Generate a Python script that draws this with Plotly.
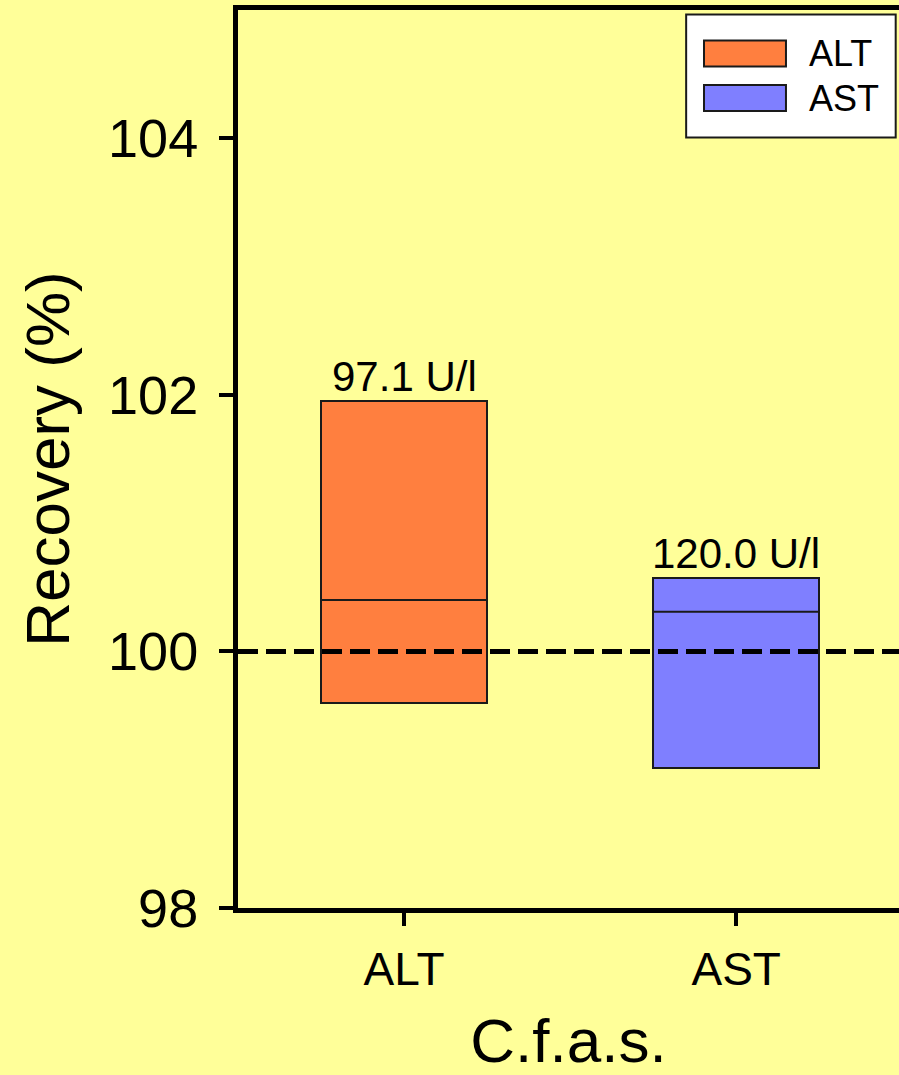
import plotly.graph_objects as go

# ---- data ----
categories = ["ALT", "AST"]
low_values = [99.60, 99.09]
high_values = [101.95, 100.57]
median_values = [100.40, 100.31]
bar_labels = ["97.1 U/l", "120.0 U/l"]
colors = ["#FF7F3F", "#7F7FFF"]
y_tick_values = [98, 100, 102, 104]
reference_level = 100

FONT = "Arial, Liberation Sans, Helvetica, sans-serif"
BG = "#FFFF99"
bar_width = 0.5
x_pos = list(range(len(categories)))

fig = go.Figure()

for i, cat in enumerate(categories):
    fig.add_trace(go.Bar(
        x=[x_pos[i]], y=[high_values[i] - low_values[i]], base=[low_values[i]],
        width=bar_width, name=cat,
        marker=dict(color=colors[i], line=dict(color="#1a1a1a", width=2)),
        showlegend=False, hoverinfo="skip",
    ))
    fig.add_trace(go.Scatter(
        x=[x_pos[i] - bar_width / 2, x_pos[i] + bar_width / 2],
        y=[median_values[i], median_values[i]],
        mode="lines", line=dict(color="#1a1a1a", width=2),
        showlegend=False, hoverinfo="skip",
    ))
    fig.add_annotation(
        x=x_pos[i], y=high_values[i], text=bar_labels[i], showarrow=False,
        yanchor="bottom", yshift=-1, font=dict(family=FONT, size=42, color="black"),
    )

# reference dashed line
fig.add_shape(type="line", xref="paper", x0=0, x1=1, yref="y",
              y0=reference_level, y1=reference_level, layer="above",
              line=dict(color="black", width=5, dash="20px,8px"))

# ---- manual legend ----
lg_x0, lg_x1, lg_y0, lg_y1 = 0.678, 0.995, 0.858, 0.995
fig.add_shape(type="rect", xref="paper", yref="paper", x0=lg_x0, x1=lg_x1,
              y0=lg_y0, y1=lg_y1, fillcolor="white",
              line=dict(color="#1a1a1a", width=2), layer="above")
sw_x0, sw_x1 = 0.705, 0.829
row_centers = [0.9515, 0.902]
sw_half = 0.0145
for i, cat in enumerate(categories):
    yc = row_centers[i]
    fig.add_shape(type="rect", xref="paper", yref="paper", x0=sw_x0, x1=sw_x1,
                  y0=yc - sw_half, y1=yc + sw_half, fillcolor=colors[i],
                  line=dict(color="#1a1a1a", width=2), layer="above")
    fig.add_annotation(xref="paper", yref="paper", x=0.861, y=yc, text=cat,
                       showarrow=False, xanchor="left", yanchor="middle",
                       font=dict(family=FONT, size=36, color="black"))

fig.update_layout(
    width=899, height=1075,
    margin=dict(l=238, r=0, t=10, b=167),
    paper_bgcolor=BG, plot_bgcolor=BG,
    font=dict(family=FONT, color="black"),
    bargap=0,
    showlegend=False,
)
fig.update_xaxes(
    range=[-0.5, 1.49], tickmode="array", tickvals=x_pos, ticktext=categories,
    showgrid=False, zeroline=False,
    showline=True, linecolor="black", linewidth=5, mirror=True,
    ticks="outside", ticklen=13, tickwidth=4, tickcolor="black",
    ticklabelstandoff=4,
    tickfont=dict(family=FONT, size=46, color="black"),
    title=dict(text="C.f.a.s.", font=dict(family=FONT, size=62, color="black"), standoff=32),
)
fig.update_yaxes(
    range=[98, 105], tickmode="array", tickvals=y_tick_values,
    showgrid=False, zeroline=False,
    showline=True, linecolor="black", linewidth=5, mirror=False,
    ticks="outside", ticklen=14, tickwidth=4, tickcolor="black",
    ticklabelstandoff=10,
    tickfont=dict(family=FONT, size=54, color="black"),
    title=dict(text="Recovery (%)", font=dict(family=FONT, size=62, color="black"), standoff=20),
)

fig.write_html("out.html")
